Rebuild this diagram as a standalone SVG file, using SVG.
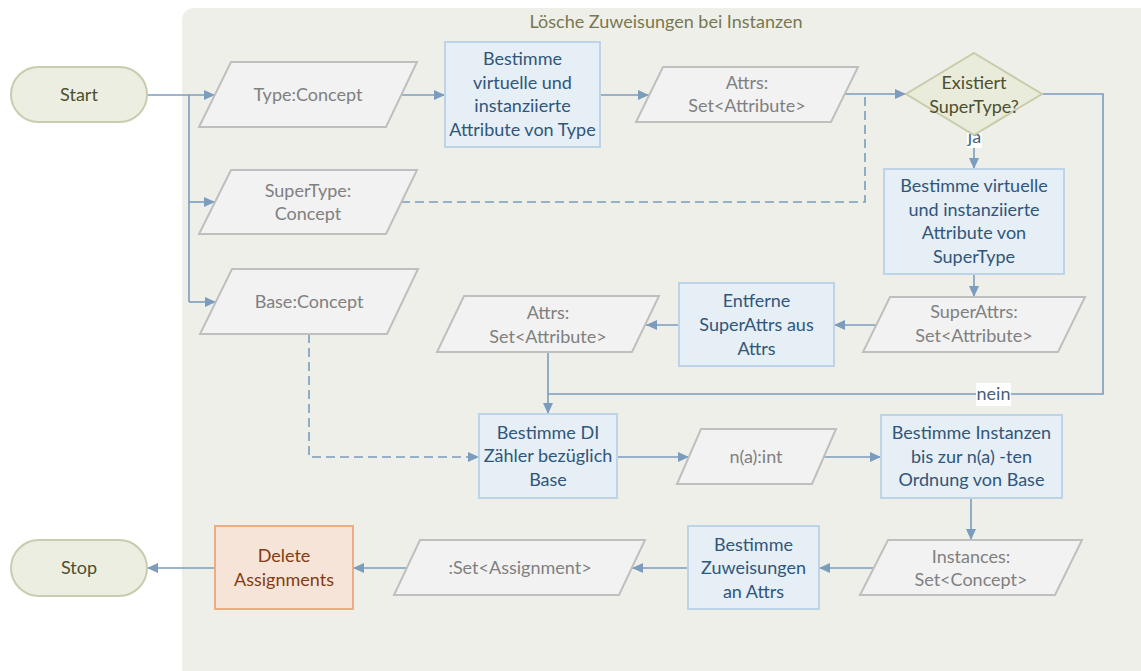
<svg xmlns="http://www.w3.org/2000/svg" width="1141" height="671" viewBox="0 0 1141 671">
  <style>
    text { font-family: Lato, "Open Sans", "Liberation Sans", sans-serif; font-size: 18px; text-anchor: middle; }
    .term { fill: #ECEEE2; stroke: #C9CCAD; stroke-width: 2; }
    .term-t { fill: #4C4F2F; }
    .data { fill: #F2F2F2; stroke: #BFBFBF; stroke-width: 2; }
    .data-t { fill: #808080; }
    .proc { fill: #E6EEF6; stroke: #BDD4E8; stroke-width: 2; }
    .proc-t { fill: #30567A; }
    .act { fill: #F7E4D9; stroke: #EEAC85; stroke-width: 2; }
    .act-t { fill: #833C11; }
    .dec { fill: #E9EBDB; stroke: #C9CCAB; stroke-width: 2; }
    .edge { fill: none; stroke: #7B9CBC; stroke-width: 1.6; }
    .dash { stroke-dasharray: 9 5; }
    .lbl-bg { fill: #FFFFFF; }
    .lbl { fill: #44607E; }
    .title { fill: #77784F; }
  </style>
  <defs>
    <marker id="arrow" markerUnits="userSpaceOnUse" markerWidth="12" markerHeight="11" refX="11" refY="5" orient="auto">
      <path d="M0,0 L11,5 L0,10 z" fill="#7B9CBC"/>
    </marker>
  </defs>

  <!-- swimlane container -->
  <g id="container">
    <rect x="182" y="8" width="1000" height="700" rx="12" fill="#EFEFEA"/>
    <text class="title" x="666" y="28">Lösche Zuweisungen bei Instanzen</text>
  </g>

  <!-- connectors -->
  <g id="connectors">
    <path class="edge" d="M147,95 H215" marker-end="url(#arrow)"/>
    <path class="edge" d="M189,95 V302"/>
    <path class="edge" d="M189,202 H215" marker-end="url(#arrow)"/>
    <path class="edge" d="M189,302 H216" marker-end="url(#arrow)"/>
    <path class="edge" d="M402,95 H445" marker-end="url(#arrow)"/>
    <path class="edge" d="M600,95 H649" marker-end="url(#arrow)"/>
    <path class="edge" d="M845,94 H906" marker-end="url(#arrow)"/>
    <path class="edge dash" d="M401,202 H865 V95"/>
    <path class="edge" d="M974,135 V169" marker-end="url(#arrow)"/>
    <path class="edge" d="M974,274 V297" marker-end="url(#arrow)"/>
    <path class="edge" d="M876,325 H834" marker-end="url(#arrow)"/>
    <path class="edge" d="M679,325 H646" marker-end="url(#arrow)"/>
    <path class="edge" d="M548,352 V414" marker-end="url(#arrow)"/>
    <path class="edge" d="M1042,94 H1103 V394 H548"/>
    <path class="edge dash" d="M309,334 V457 H479" marker-end="url(#arrow)"/>
    <path class="edge" d="M617,457 H689" marker-end="url(#arrow)"/>
    <path class="edge" d="M823,457 H881" marker-end="url(#arrow)"/>
    <path class="edge" d="M971,498 V540" marker-end="url(#arrow)"/>
    <path class="edge" d="M874,568 H819" marker-end="url(#arrow)"/>
    <path class="edge" d="M688,568 H632" marker-end="url(#arrow)"/>
    <path class="edge" d="M407,568 H353" marker-end="url(#arrow)"/>
    <path class="edge" d="M215,568 H147" marker-end="url(#arrow)"/>
    <rect class="lbl-bg" x="967" y="125" width="15" height="23"/>
    <text class="lbl" x="974.5" y="143">ja</text>
    <rect class="lbl-bg" x="976" y="383" width="35" height="23"/>
    <text class="lbl" x="993.5" y="400">nein</text>
  </g>

  <g id="start">
    <rect class="term" x="11" y="67" width="136" height="55" rx="27.5"/>
    <text class="term-t" x="79" y="101">Start</text>
  </g>

  <g id="type-concept">
    <polygon class="data" points="231,62 417,62 386,127 199,127"/>
    <text class="data-t" x="308" y="101">Type:Concept</text>
  </g>

  <g id="supertype-concept">
    <polygon class="data" points="231,170 417,170 386,234 199,234"/>
    <text class="data-t" x="308" y="197">SuperType:</text>
    <text class="data-t" x="308" y="220">Concept</text>
  </g>

  <g id="base-concept">
    <polygon class="data" points="232,269 418,269 387,334 200,334"/>
    <text class="data-t" x="309" y="308">Base:Concept</text>
  </g>

  <g id="attrs-of-type">
    <rect class="proc" x="445" y="42" width="155" height="105"/>
    <text class="proc-t" x="522.5" y="65">Bestimme</text>
    <text class="proc-t" x="522.5" y="89">virtuelle und</text>
    <text class="proc-t" x="522.5" y="112">instanziierte</text>
    <text class="proc-t" x="522.5" y="136">Attribute von Type</text>
  </g>

  <g id="attrs-set">
    <polygon class="data" points="663,67 858,67 831,122 636,122"/>
    <text class="data-t" x="747" y="89">Attrs:</text>
    <text class="data-t" x="747" y="112">Set&lt;Attribute&gt;</text>
  </g>

  <g id="supertype-exists">
    <polygon class="dec" points="974,53 1042,94 974,135 906,94"/>
    <text class="term-t" x="974" y="89">Existiert</text>
    <text class="term-t" x="974" y="113">SuperType?</text>
  </g>

  <g id="attrs-of-supertype">
    <rect class="proc" x="884" y="169" width="180" height="105"/>
    <text class="proc-t" x="974" y="192">Bestimme virtuelle</text>
    <text class="proc-t" x="974" y="216">und instanziierte</text>
    <text class="proc-t" x="974" y="239">Attribute von</text>
    <text class="proc-t" x="974" y="263">SuperType</text>
  </g>

  <g id="superattrs-set">
    <polygon class="data" points="890,297 1085,297 1058,352 863,352"/>
    <text class="data-t" x="974" y="318">SuperAttrs:</text>
    <text class="data-t" x="974" y="342">Set&lt;Attribute&gt;</text>
  </g>

  <g id="remove-superattrs">
    <rect class="proc" x="679" y="283" width="155" height="83"/>
    <text class="proc-t" x="756.5" y="307">Entferne</text>
    <text class="proc-t" x="756.5" y="331">SuperAttrs aus</text>
    <text class="proc-t" x="756.5" y="355">Attrs</text>
  </g>

  <g id="attrs-remaining">
    <polygon class="data" points="464,296 659,296 632,352 437,352"/>
    <text class="data-t" x="548" y="319">Attrs:</text>
    <text class="data-t" x="548" y="343">Set&lt;Attribute&gt;</text>
  </g>

  <g id="di-counter">
    <rect class="proc" x="479" y="414" width="138" height="84"/>
    <text class="proc-t" x="548" y="439">Bestimme DI</text>
    <text class="proc-t" x="548" y="462">Zähler bezüglich</text>
    <text class="proc-t" x="548" y="486">Base</text>
  </g>

  <g id="n-int">
    <polygon class="data" points="701,429 836,429 812,484 677,484"/>
    <text class="data-t" x="756" y="463">n(a):int</text>
  </g>

  <g id="instances-of-base">
    <rect class="proc" x="881" y="415" width="181" height="83"/>
    <text class="proc-t" x="971.5" y="439">Bestimme Instanzen</text>
    <text class="proc-t" x="971.5" y="463">bis zur n(a) -ten</text>
    <text class="proc-t" x="971.5" y="486">Ordnung von Base</text>
  </g>

  <g id="instances-set">
    <polygon class="data" points="888,540 1082,540 1055,595 860,595"/>
    <text class="data-t" x="971" y="563">Instances:</text>
    <text class="data-t" x="971" y="586">Set&lt;Concept&gt;</text>
  </g>

  <g id="assignments-of-attrs">
    <rect class="proc" x="688" y="526" width="131" height="83"/>
    <text class="proc-t" x="753.5" y="551">Bestimme</text>
    <text class="proc-t" x="753.5" y="574">Zuweisungen</text>
    <text class="proc-t" x="753.5" y="598">an Attrs</text>
  </g>

  <g id="assignment-set">
    <polygon class="data" points="420,540 645,540 619,595 394,595"/>
    <text class="data-t" x="520" y="574">:Set&lt;Assignment&gt;</text>
  </g>

  <g id="delete-assignments">
    <rect class="act" x="215" y="526" width="138" height="83"/>
    <text class="act-t" x="284" y="562">Delete</text>
    <text class="act-t" x="284" y="586">Assignments</text>
  </g>

  <g id="stop">
    <rect class="term" x="11" y="540" width="136" height="56" rx="28"/>
    <text class="term-t" x="79" y="574">Stop</text>
  </g>
</svg>
